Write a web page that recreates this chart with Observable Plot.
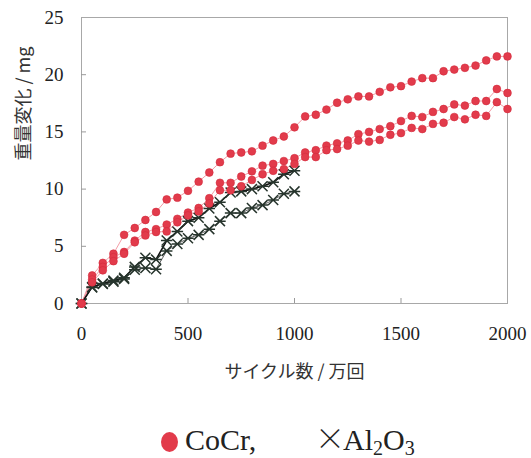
<!DOCTYPE html>
<html>
<head>
<meta charset="utf-8">
<script src="https://cdn.jsdelivr.net/npm/d3@7"></script>
<script src="https://cdn.jsdelivr.net/npm/@observablehq/plot@0.6"></script>
<style>
  html, body { margin: 0; padding: 0; background: #fff; }
  #wrap { width: 531px; position: relative; }
  #wrap svg { display: block; }
</style>
</head>
<body>
<div id="wrap"></div>
<script>
// ---- data ----
const cycCoCr = [0,50,100,150,200,250,300,350,400,450,500,550,600,650,700,750,800,850,900,950,
                 1000,1050,1100,1150,1200,1250,1300,1350,1400,1450,1500,1550,1600,1650,1700,1750,1800,1850,1900,1950,2000];
const cocrA = [0,2.45,3.55,4.35,6.0,6.6,7.3,8.0,9.1,9.25,9.85,10.65,11.45,12.35,13.1,13.2,13.3,13.8,14.25,14.6,
               15.4,16.35,16.5,16.95,17.55,17.85,18.1,18.1,18.5,18.9,19.0,19.4,19.7,19.7,20.3,20.45,20.6,20.8,21.25,21.6,21.6];
const cocrB = [0,2.1,3.2,4.05,4.5,5.5,6.25,6.5,6.9,7.4,7.95,8.35,9.2,10.55,10.55,11.1,11.55,12.05,12.2,12.45,
               12.7,13.2,13.4,13.8,14.0,14.25,14.8,15.0,15.25,15.5,15.95,16.4,16.3,16.75,17.0,17.4,17.3,17.7,17.7,18.75,18.4];
const cocrC = [0,1.85,2.9,3.7,4.35,5.35,5.95,6.25,6.3,7.1,7.7,8.05,8.75,9.9,9.9,10.25,10.8,11.3,11.6,11.75,
               12.2,12.8,12.8,13.4,13.5,13.8,14.25,14.15,14.3,14.75,14.9,15.35,15.25,15.7,15.8,16.3,16.1,16.5,16.4,17.6,17.0];
const cycAl = [0,50,100,150,200,250,300,350,400,450,500,550,600,650,700,750,800,850,900,950,1000];
const alD = [0,1.45,1.75,2.0,2.25,3.2,4.0,3.85,5.5,6.3,7.2,7.5,8.3,8.85,9.7,9.8,10.0,10.25,10.6,11.3,11.6];
const alE = [0,1.4,1.7,1.9,2.15,2.95,3.1,3.0,4.6,5.2,5.7,6.0,6.5,7.2,7.9,7.9,8.35,8.6,9.05,9.6,9.8];

const xTicks = [0,500,1000,1500,2000];
const yTicks = [0,5,10,15,20,25];
const xTitle = "サイクル数 / 万回";
const yTitle = "重量変化 / mg";

// ---- build tables ----
const cocrRows = [["A",cocrA],["B",cocrB],["C",cocrC]].flatMap(([s,v]) => cycCoCr.map((c,i) => ({series:s, x:c, y:v[i]})));
const alUpper = cycAl.map((c,i) => ({x:c, y:alD[i]}));
const alLower = cycAl.map((c,i) => ({x:c, y:alE[i]}));

// asterisk-like marker: two diagonals plus a horizontal bar
const starX = {
  draw(ctx, size) {
    const r = Math.sqrt(size / Math.PI);
    ctx.moveTo(-r, -r); ctx.lineTo(r, r);
    ctx.moveTo(-r, r); ctx.lineTo(r, -r);
    ctx.moveTo(-r * 1.15, 0); ctx.lineTo(r * 1.15, 0);
  }
};

const red = "#e23b4b";
const dark = "#26342c";
const W = 531, H = 390, mL = 81, mR = 24, mT = 17, mB = 87;
const tickLen = 5;

const chart = Plot.plot({
  width: W,
  height: H,
  marginLeft: mL,
  marginRight: mR,
  marginTop: mT,
  marginBottom: mB,
  style: { fontFamily: "Liberation Serif, serif", fontSize: "19px", color: "#222", background: "#fff" },
  x: { domain: [0, 2000] },
  y: { domain: [0, 25] },
  marks: [
    Plot.frame({ stroke: "#a8a8a8", strokeWidth: 1 }),
    Plot.axisX(xTicks, { tickSize: 0, tickPadding: 23, label: null, fontSize: 19, tickFormat: d => String(d) }),
    Plot.axisY(yTicks, { tickSize: 0, tickPadding: 18, label: null, fontSize: 19, tickFormat: d => String(d) }),
    Plot.tickX(xTicks.slice(1, -1), { x: d => d, insetTop: (H - mT - mB) - tickLen, stroke: "#999" }),
    Plot.tickY(yTicks.slice(1, -1), { y: d => d, insetRight: (W - mL - mR) - tickLen, stroke: "#999" }),
    Plot.line(cocrRows, { x: "x", y: "y", z: "series", stroke: "#f2929c", strokeWidth: 0.9 }),
    Plot.line(alLower, { x: "x", y: "y", stroke: "#555", strokeWidth: 0.9 }),
    Plot.line(alUpper, { x: "x", y: "y", stroke: "#111", strokeWidth: 1.6 }),
    Plot.dot(alLower, { x: "x", y: "y", symbol: starX, r: 5, stroke: dark, strokeWidth: 1.5 }),
    Plot.dot(alUpper, { x: "x", y: "y", symbol: starX, r: 5, stroke: dark, strokeWidth: 1.5 }),
    Plot.dot(cocrRows, { x: "x", y: "y", r: 3.9, fill: red, stroke: "#d42a3c", strokeWidth: 0.6 }),
    Plot.text([xTitle], { frameAnchor: "bottom", dy: 69, lineAnchor: "middle", fontSize: 18,
      fontFamily: "Noto Sans CJK JP", fill: "#333" }),
    Plot.text([yTitle], { frameAnchor: "left", dx: -57, rotate: -90, lineAnchor: "middle", fontSize: 18,
      fontFamily: "Noto Sans CJK JP", fill: "#333" })
  ]
});

const wrap = document.getElementById("wrap");
wrap.appendChild(chart);

// ---- legend (below the chart SVG) ----
const legendLabels = { cocr: "CoCr,", alPre: "×", al: ["Al", "2", "O", "3"] };
const lg = d3.create("svg").attr("width", W).attr("height", 68)
  .attr("font-family", "Liberation Serif, serif").attr("font-size", 30).attr("fill", "#222");
lg.append("ellipse").attr("cx", 169.5).attr("cy", 52).attr("rx", 8.5).attr("ry", 10).attr("fill", red);
lg.append("text").attr("x", 185).attr("y", 60).text(legendLabels.cocr);
lg.append("text").attr("x", 315).attr("y", 59)
  .attr("font-family", "Noto Sans CJK JP, sans-serif").attr("font-weight", 300).text(legendLabels.alPre);
const t = lg.append("text").attr("x", 343).attr("y", 60);
t.append("tspan").text(legendLabels.al[0]);
t.append("tspan").attr("font-size", 20).attr("dy", 5).text(legendLabels.al[1]);
t.append("tspan").attr("dy", -5).text(legendLabels.al[2]);
t.append("tspan").attr("font-size", 20).attr("dy", 5).text(legendLabels.al[3]);
wrap.appendChild(lg.node());
</script>
</body>
</html>
